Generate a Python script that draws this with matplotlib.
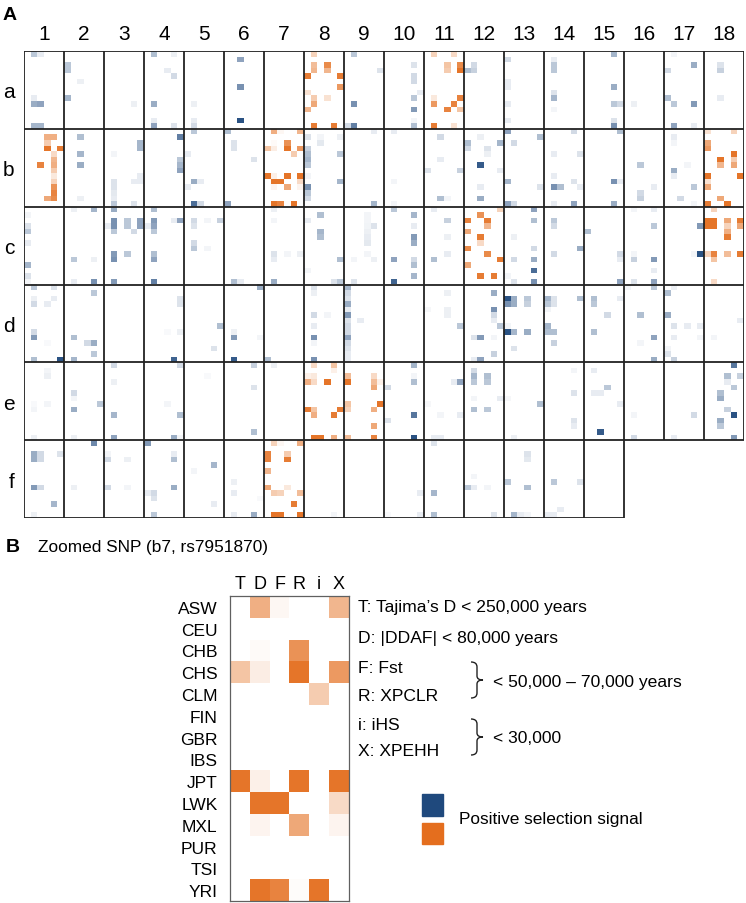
import matplotlib
matplotlib.use("Agg")
import matplotlib.pyplot as plt
import numpy as np
from matplotlib.path import Path
from matplotlib.patches import PathPatch, Rectangle

plt.rcParams['font.family'] = ['Liberation Sans', 'DejaVu Sans']

# ---- panel B data: zoomed SNP (b7, rs7951870) ----
pops = ['ASW', 'CEU', 'CHB', 'CHS', 'CLM', 'FIN', 'GBR', 'IBS',
        'JPT', 'LWK', 'MXL', 'PUR', 'TSI', 'YRI']
tests = ['T', 'D', 'F', 'R', 'i', 'X']
zoom_vals = [
    [0, .55, .05, 0, 0, .5],
    [0, 0, 0, 0, 0, 0],
    [0, .03, 0, .75, 0, 0],
    [.4, .12, 0, .95, 0, .7],
    [0, 0, 0, 0, .35, 0],
    [0, 0, 0, 0, 0, 0],
    [0, 0, 0, 0, 0, 0],
    [0, 0, 0, 0, 0, 0],
    [.95, .1, 0, .95, 0, .95],
    [0, .95, .95, 0, 0, .25],
    [0, .07, 0, .6, 0, .07],
    [0, 0, 0, 0, 0, 0],
    [0, 0, 0, 0, 0, 0],
    [0, .95, .85, .02, .95, 0],
]

# ---- panel A data: per grid row, {column: [(population, test, intensity)]} ----
col_labels = [str(i) for i in range(1, 19)]
row_labels = ['a', 'b', 'c', 'd', 'e', 'f']
row_ncols = [18, 18, 18, 18, 18, 15]

blue_a = {
    1: [(0, 1, .3), (0, 2, .1), (8, 1, .1), (9, 1, .45), (9, 2, .5), (13, 1, .4), (13, 2, .4)],
    2: [(2, 0, .3), (3, 0, .3), (5, 2, .08), (8, 0, .4)],
    3: [(9, 4, .08)],
    4: [(0, 1, .35), (0, 4, .08), (3, 3, .1), (4, 4, .2), (9, 1, .45), (12, 1, .1), (13, 1, .5), (13, 4, .15)],
    5: [(9, 1, .08), (12, 1, .1), (13, 1, .2)],
    6: [(1, 2, .5), (6, 2, .6), (12, 2, .95)],
    9: [(0, 1, .3), (3, 5, .15), (9, 1, .6), (13, 0, .2), (13, 1, .7)],
    10: [(2, 4, .15), (4, 4, .2), (5, 4, .2), (7, 5, .1), (8, 4, .3), (10, 4, .55), (12, 4, .05), (13, 4, .35)],
    12: [(2, 1, .2), (3, 0, .35), (3, 1, .25)],
    13: [(1, 0, .2), (5, 0, .1), (6, 0, .1), (9, 0, .1), (12, 0, .1)],
    14: [(1, 1, .1), (2, 1, .3), (3, 1, .3), (7, 1, .15), (8, 1, .4), (10, 1, .05)],
    15: [(0, 4, .4), (6, 4, .45), (9, 4, .3), (9, 5, .2), (12, 4, .15), (13, 4, .6)],
    16: [(9, 1, .08)],
    17: [(0, 1, .05), (2, 4, .45), (3, 0, .2), (8, 0, .35), (9, 1, .3), (9, 4, .55), (13, 1, .5), (13, 4, .1)],
    18: [(2, 2, .15), (3, 2, .25), (8, 2, .1)],
}
orange_a = {
    8: [(0, 1, .3), (2, 1, .45), (3, 1, .5), (2, 3, .8), (3, 3, .5), (4, 0, .9), (4, 5, .9), (6, 5, .7),
        (7, 0, .2), (8, 1, .35), (8, 3, .2), (9, 1, .6), (10, 0, .5), (13, 1, .9), (13, 4, .9)],
    11: [(0, 1, .3), (0, 4, .25), (2, 3, .4), (3, 3, .35), (2, 5, .8), (3, 5, .95), (8, 1, .15), (8, 5, .85),
         (9, 1, .7), (9, 4, .85), (10, 3, .85), (10, 5, .4), (13, 1, .9), (13, 4, .2)],
}

blue_b = {
    2: [(1, 2, .35), (4, 2, .4), (6, 2, .45), (12, 2, .08)],
    3: [(4, 1, .05), (2, 5, .4), (3, 5, .4), (8, 5, .1), (9, 1, .15), (10, 1, .15), (11, 1, .12), (12, 1, .1),
        (9, 4, .1), (9, 5, .1), (13, 1, .3), (13, 4, .15)],
    4: [(1, 5, .7), (5, 5, .3), (6, 5, .4), (7, 5, .5)],
    5: [(0, 1, .3), (4, 0, .1), (9, 1, .45), (9, 2, .1), (10, 0, .1), (13, 1, .8), (13, 2, .2)],
    6: [(0, 0, .35), (2, 1, .15), (3, 1, .15), (5, 4, .15), (13, 0, .5)],
    8: [(1, 0, .15), (1, 2, .05), (1, 5, .08), (2, 2, .12), (3, 0, .25), (4, 0, .35), (5, 0, .4), (4, 5, .3),
        (6, 0, .3), (8, 0, .05), (9, 5, .4), (10, 0, .6), (11, 0, .3), (12, 0, .2)],
    9: [(0, 4, .1), (13, 4, .4)],
    10: [(0, 1, .1), (9, 1, .05), (13, 1, .05)],
    11: [(1, 2, .2), (5, 2, .1), (7, 0, .15), (7, 5, .25), (12, 2, .35), (12, 3, .05)],
    12: [(1, 2, .08), (2, 0, .35), (3, 0, .2), (3, 3, .15), (4, 3, .08), (2, 5, .4), (6, 2, .9), (7, 5, .1),
         (10, 2, .1), (12, 2, .45)],
    13: [(0, 0, .5), (2, 1, .2), (1, 5, .35), (9, 0, .4), (10, 5, .15), (13, 0, .5), (13, 1, .2)],
    14: [(0, 4, .2), (4, 1, .1), (4, 5, .15), (8, 1, .1), (10, 1, .6), (10, 2, .35), (9, 4, .15), (10, 5, .1),
         (13, 1, .1), (13, 4, .5)],
    15: [(0, 5, .35), (9, 4, .6), (9, 5, .1), (13, 4, .45)],
    16: [(6, 2, .3), (11, 2, .2), (12, 2, .25), (10, 4, .1)],
    17: [(1, 1, .1), (2, 1, .05), (6, 3, .05), (7, 1, .45), (8, 1, .1), (10, 4, .3), (12, 2, .2), (13, 4, .05)],
}
orange_b = {
    1: [(1, 3, .55), (1, 4, .55), (2, 3, .35), (3, 3, .95), (3, 5, .9), (4, 4, .25), (5, 4, .5), (6, 2, .85),
        (6, 4, .55), (7, 4, .35), (8, 4, .15), (9, 4, .3), (10, 4, .75), (11, 4, .85), (12, 3, .6), (12, 4, .8)],
    18: [(0, 0, .2), (0, 4, .3), (2, 0, .6), (3, 0, .7), (4, 4, .95), (5, 2, .95), (5, 4, .35), (6, 2, .5),
         (6, 4, .6), (8, 0, .95), (8, 5, .95), (9, 0, .2), (10, 0, .6), (12, 2, .6), (13, 0, .9), (13, 3, .95)],
}

blue_c = {
    1: [(1, 0, .05), (3, 0, .15), (4, 0, .3), (6, 0, .1), (10, 0, .4), (12, 0, .15), (13, 0, .05)],
    2: [(0, 1, .08), (0, 4, .4), (9, 1, .3), (9, 4, .08), (13, 1, .1), (13, 4, .6)],
    3: [(0, 1, .45), (2, 1, .6), (3, 1, .6), (4, 1, .3), (3, 0, .1), (2, 3, .3), (3, 3, .3), (4, 4, .2),
        (2, 5, .5), (3, 5, .5), (8, 1, .55), (9, 1, .6), (8, 3, .3), (13, 1, .55)],
    4: [(0, 1, .35), (2, 1, .55), (3, 1, .5), (4, 1, .3), (3, 0, .1), (2, 5, .5), (2, 4, .1), (8, 1, .35),
        (9, 1, .5), (13, 1, .7)],
    5: [(2, 1, .2), (3, 1, .15), (2, 3, .05), (2, 5, .25), (6, 1, .2), (7, 1, .3), (7, 3, .05)],
    6: [(13, 1, .35), (13, 2, .1)],
    7: [(0, 1, .08), (2, 1, .05), (8, 1, .15), (9, 1, .1), (8, 3, .05), (8, 5, .08), (13, 1, .45)],
    8: [(1, 2, .35), (2, 0, .1), (4, 2, .4), (5, 2, .35), (9, 5, .35), (11, 0, .05), (13, 4, .15), (13, 5, .3)],
    9: [(1, 3, .05), (2, 3, .05), (3, 3, .06), (3, 4, .15), (4, 3, .08), (5, 3, .1), (6, 3, .12), (8, 3, .05),
        (9, 1, .05), (9, 4, .08), (13, 1, .15)],
    10: [(0, 1, .3), (1, 4, .4), (3, 4, .1), (5, 4, .55), (6, 4, .45), (9, 1, .5), (9, 4, .2), (10, 4, .35),
         (12, 4, .4), (13, 1, .85)],
    11: [(0, 1, .1), (2, 3, .25), (5, 3, .08), (8, 3, .1), (9, 1, .35)],
    13: [(0, 4, .5), (2, 4, .35), (5, 1, .08), (7, 4, .2), (9, 1, .2), (9, 4, .45), (11, 4, .8), (12, 0, .05),
         (13, 1, .15), (13, 4, .6)],
    14: [(2, 1, .3), (3, 1, .2), (8, 1, .2), (7, 5, .45)],
    15: [(4, 0, .35), (8, 5, .2), (9, 5, .1), (13, 5, .5)],
    16: [(0, 1, .05), (0, 4, .1), (3, 4, .3), (8, 1, .05), (9, 1, .25), (9, 4, .55), (11, 4, .1), (13, 1, .15),
         (13, 4, .5)],
    17: [(3, 5, .55), (8, 5, .95), (8, 4, .05)],
}
orange_c = {
    12: [(0, 5, .3), (1, 2, .75), (2, 0, .85), (2, 3, .9), (3, 3, .5), (4, 0, .6), (5, 2, .9), (6, 2, .25),
         (7, 0, .8), (8, 3, .8), (9, 5, .9), (10, 0, .6), (12, 2, .9), (12, 4, .9)],
    18: [(0, 1, .3), (2, 0, .95), (2, 1, .95), (3, 0, .95), (3, 1, .95), (2, 3, .6), (3, 3, .3), (2, 5, .9),
         (3, 5, .6), (4, 3, .55), (5, 3, .9), (8, 0, .3), (8, 1, .85), (9, 1, .4), (8, 3, .45), (8, 5, .9),
         (13, 1, .25)],
}

blue_d = {
    1: [(0, 1, .3), (0, 4, .15), (2, 1, .08), (3, 1, .2), (3, 3, .1), (2, 4, .1), (8, 1, .2), (9, 1, .55),
        (10, 3, .03), (13, 1, .35), (13, 5, .95)],
    2: [(1, 4, .3), (9, 1, .35), (10, 3, .2), (10, 4, .45), (12, 4, .3), (13, 1, .4)],
    4: [(2, 5, .15), (3, 5, .15), (8, 5, .08), (8, 3, .03), (13, 4, .85)],
    5: [(7, 5, .35), (11, 4, .15)],
    6: [(0, 5, .45), (8, 1, .08), (9, 1, .55), (9, 5, .05), (13, 1, .9)],
    7: [(13, 0, .35)],
    8: [(0, 1, .15), (1, 1, .08), (5, 1, .2), (5, 3, .05), (7, 1, .1), (9, 1, .6), (10, 1, .05), (13, 1, .6)],
    9: [(0, 0, .4), (1, 0, .2), (2, 0, .15), (3, 0, .45), (4, 0, .1), (5, 0, .55), (6, 0, .15), (6, 2, .1),
        (7, 0, .2), (8, 0, .2), (9, 0, .5), (10, 0, .2), (11, 0, .15), (12, 0, .1), (13, 0, .1)],
    11: [(1, 3, .08), (4, 3, .08), (5, 3, .08), (4, 0, .04), (7, 5, .3)],
    12: [(1, 4, .45), (4, 4, .6), (5, 4, .2), (6, 4, .1), (7, 5, .3), (9, 1, .15), (9, 2, .55), (9, 4, .05),
         (12, 4, .25), (13, 1, .1), (13, 2, .5)],
    13: [(2, 0, .95), (3, 0, .6), (2, 1, .45), (3, 1, .45), (2, 3, .3), (3, 3, .25), (7, 0, .05), (8, 0, .95),
         (8, 1, .4), (8, 3, .45), (11, 1, .15)],
    14: [(2, 0, .4), (3, 0, .3), (2, 1, .15), (3, 1, .15), (2, 5, .35), (4, 0, .05), (7, 0, .4), (8, 0, .35),
         (8, 1, .35), (10, 1, .25)],
    15: [(2, 1, .35), (3, 1, .3), (2, 5, .1), (5, 3, .2), (8, 1, .35)],
    16: [(0, 0, .05), (0, 4, .3), (5, 2, .35), (9, 4, .5), (10, 2, .05), (13, 4, .45)],
    17: [(0, 1, .08), (1, 0, .35), (5, 0, .45), (7, 1, .15), (7, 3, .1), (7, 5, .1), (9, 1, .1), (9, 5, .05),
         (11, 0, .05), (12, 0, .15), (13, 1, .25)],
    18: [(6, 5, .1), (9, 1, .05)],
}
orange_d = {}

blue_e = {
    1: [(1, 3, .05), (2, 3, .08), (7, 1, .03), (7, 3, .05), (8, 1, .05), (13, 1, .08)],
    2: [(5, 1, .2), (6, 1, .05), (7, 5, .3), (8, 1, .45), (13, 1, .08)],
    3: [(0, 1, .2), (3, 1, .08), (9, 1, .4), (13, 1, .5)],
    4: [(0, 5, .2), (7, 3, .05), (9, 5, .35), (13, 4, .45), (13, 5, .05)],
    5: [(2, 3, .03)],
    6: [(0, 4, .25), (4, 4, .15), (12, 4, .35)],
    7: [(0, 1, .08)],
    10: [(0, 4, .4), (2, 4, .05), (3, 4, .35), (4, 0, .2), (9, 4, .75), (10, 0, .15), (13, 4, .95)],
    11: [(3, 4, .1), (3, 5, .5), (7, 0, .04), (9, 2, .05), (9, 5, .1), (13, 1, .1), (13, 2, .1)],
    12: [(1, 1, .2), (2, 1, .4), (3, 1, .3), (2, 3, .35), (3, 3, .3), (6, 1, .05), (6, 5, .1), (8, 1, .35),
         (8, 3, .3)],
    13: [(6, 0, .04), (7, 5, .35), (13, 1, .08)],
    14: [(1, 4, .05), (5, 4, .15), (10, 4, .15), (11, 4, .1)],
    15: [(1, 1, .1), (4, 3, .3), (5, 1, .1), (5, 2, .1), (7, 5, .1), (12, 2, .9)],
    16: [(9, 1, .05), (13, 1, .2)],
    17: [(9, 4, .2), (13, 1, .1)],
    18: [(0, 4, .75), (2, 3, .35), (2, 5, .25), (3, 3, .1), (4, 4, .3), (5, 2, .35), (6, 2, .45), (8, 3, .25),
         (9, 4, .95), (10, 2, .45), (11, 2, .3), (13, 4, .55)],
}
orange_e = {
    8: [(0, 1, .25), (0, 4, .4), (1, 4, .1), (2, 0, .1), (2, 1, .15), (3, 0, .55), (3, 1, .25), (3, 3, .95),
        (8, 0, .9), (8, 1, .4), (9, 1, .55), (8, 5, .9), (9, 4, .9), (13, 1, .95), (13, 2, .95), (13, 4, .55)],
    9: [(2, 0, .45), (3, 0, .95), (2, 4, .25), (3, 4, .45), (4, 4, .6), (3, 5, .1), (7, 0, .4), (8, 0, .3),
        (7, 5, .95), (8, 4, .55), (11, 4, .6), (13, 0, .45), (13, 4, .85)],
}

blue_f = {
    1: [(2, 1, .45), (3, 1, .45), (2, 2, .2), (3, 2, .2), (2, 5, .15), (8, 1, .55), (8, 2, .2), (11, 4, .4),
        (13, 1, .08)],
    2: [(0, 4, .65), (8, 1, .08)],
    3: [(2, 0, .05), (3, 0, .2), (3, 3, .08), (8, 0, .2), (8, 3, .05)],
    4: [(0, 0, .55), (2, 4, .1), (3, 4, .35), (8, 4, .45), (9, 0, .1), (9, 1, .2), (10, 1, .15), (13, 1, .3)],
    5: [(4, 4, .4), (5, 1, .05), (11, 4, .1)],
    6: [(7, 1, .08), (9, 1, .1), (10, 5, .03), (13, 1, .1), (13, 4, .45)],
    8: [(13, 4, .05)],
    10: [(9, 5, .1), (13, 5, .1), (13, 0, .03)],
    11: [(0, 1, .15), (9, 1, .4), (13, 1, .35)],
    12: [(6, 1, .05), (8, 0, .3), (8, 1, .1), (8, 3, .05), (13, 4, .15)],
    13: [(2, 3, .15), (3, 3, .12), (7, 0, .3), (8, 3, .35), (13, 1, .4), (13, 2, .1), (13, 3, .05)],
    14: [(7, 1, .3), (7, 5, .15), (12, 2, .1), (13, 0, .1), (13, 1, .1)],
}
orange_f = {
    7: [(0, 1, .3), (0, 2, .05), (0, 5, .55), (2, 0, .85), (3, 0, .85), (2, 3, .35), (3, 3, .9), (5, 0, .5),
        (8, 0, .6), (9, 1, .35), (9, 2, .3), (8, 3, .15), (9, 5, .45), (11, 4, .9), (13, 1, .95), (13, 2, .95),
        (13, 5, .95)],
}

blues = [blue_a, blue_b, blue_c, blue_d, blue_e, blue_f]
oranges = [orange_a, orange_b, orange_c, orange_d, orange_e, orange_f]

BLUE = np.array([31, 73, 125]) / 255
ORANGE = np.array([228, 110, 30]) / 255
npop, ntest = len(pops), len(tests)


def shade(color, v):
    return 1 - v * (1 - color)


# build the big panel A image
img = np.ones((6 * npop, 18 * ntest, 3))
for r in range(6):
    for colour, table in ((BLUE, blues[r]), (ORANGE, oranges[r])):
        for c, entries in table.items():
            for p, t, v in entries:
                img[r * npop + p, (c - 1) * ntest + t] = shade(colour, v)
# b7 is the zoomed SNP of panel B
for p in range(npop):
    for t in range(ntest):
        if zoom_vals[p][t] > 0:
            img[npop + p, 6 * ntest + t] = shade(ORANGE, zoom_vals[p][t])

fig = plt.figure(figsize=(7.46, 9.04), dpi=100)

# overlay in pixel units for annotations
ov = fig.add_axes([0, 0, 1, 1])
ov.set_xlim(0, 746)
ov.set_ylim(904, 0)
ov.axis('off')

W, H = 746, 904
# ---- panel A ----
axA = fig.add_axes([24 / W, 1 - 519 / H, 720 / W, 467 / H])
axA.imshow(img, extent=(0, 18 * ntest, 6 * npop, 0), interpolation='nearest', aspect='auto')
axA.set_xlim(0, 18 * ntest)
axA.set_ylim(6 * npop, 0)
for s in axA.spines.values():
    s.set_visible(False)
gc, glw = '#222222', 1.3
for r in range(7):
    if r == 0:
        ncols = row_ncols[0]
    elif r == 6:
        ncols = row_ncols[5]
    else:
        ncols = max(row_ncols[r - 1], row_ncols[r])
    axA.hlines(r * npop, 0, ncols * ntest, color=gc, lw=glw)
for r in range(6):
    for k in range(row_ncols[r] + 1):
        axA.vlines(k * ntest, r * npop, (r + 1) * npop, color=gc, lw=glw)
axA.xaxis.tick_top()
axA.set_xticks([ntest * k + ntest / 2 for k in range(18)])
axA.set_xticklabels(col_labels, fontsize=15)
axA.set_yticks([npop * r + npop / 2 for r in range(6)])
axA.set_yticklabels(row_labels, fontsize=15)
axA.tick_params(length=0, pad=6)
axA.tick_params(axis='y', pad=7)

# ---- panel B ----
axB = fig.add_axes([230 / W, 1 - 902 / H, 119 / W, 305 / H])
zimg = np.ones((npop, ntest, 3))
for p in range(npop):
    for t in range(ntest):
        zimg[p, t] = shade(ORANGE, zoom_vals[p][t])
axB.imshow(zimg, extent=(0, ntest, npop, 0), interpolation='nearest', aspect='auto')
axB.xaxis.tick_top()
axB.set_xticks(np.arange(ntest) + 0.5)
axB.set_xticklabels(tests, fontsize=13)
axB.set_yticks(np.arange(npop) + 0.5)
axB.set_yticklabels(pops, fontsize=12.5)
axB.tick_params(length=0)
axB.tick_params(axis='x', pad=3)
axB.tick_params(axis='y', pad=9)
for s in axB.spines.values():
    s.set_color('#606060')
    s.set_linewidth(0.9)

# ---- titles ----
ov.text(3, 20, 'A', fontsize=14, fontweight='bold', va='baseline')
ov.text(6, 552, 'B', fontsize=14, fontweight='bold', va='baseline')
ov.text(38, 552, 'Zoomed SNP (b7, rs7951870)', fontsize=12.4, va='baseline')

# ---- test key ----
key_lines = ['T: Tajima’s D < 250,000 years', 'D: |DDAF| < 80,000 years',
             'F: Fst', 'R: XPCLR', 'i: iHS', 'X: XPEHH']
key_y = [608, 639, 669, 697, 726, 752]
for txt, y in zip(key_lines, key_y):
    ov.text(358, y, txt, fontsize=12.6, va='center')


def brace(x0, x1, y0, y1):
    xm = (x0 + x1) / 2
    ym = (y0 + y1) / 2
    verts = [(x0, y0), (xm, y0), (xm, y0 + 5), (xm, ym - 4), (xm, ym), (x1, ym),
             (xm, ym), (xm, ym + 4), (xm, y1 - 5), (xm, y1), (x0, y1)]
    codes = [Path.MOVETO, Path.CURVE3, Path.CURVE3, Path.LINETO, Path.CURVE3, Path.CURVE3,
             Path.CURVE3, Path.CURVE3, Path.LINETO, Path.CURVE3, Path.CURVE3]
    ov.add_patch(PathPatch(Path(verts, codes), fill=False, lw=1.0, color='#222222'))


brace(471, 483, 663, 699)
ov.text(493, 683, '< 50,000 – 70,000 years', fontsize=12.6, va='center')
brace(471, 483, 720, 756)
ov.text(493, 739, '< 30,000', fontsize=12.6, va='center')

# ---- legend ----
ov.add_patch(Rectangle((422, 795), 21, 22, color=BLUE))
ov.add_patch(Rectangle((422, 824), 21, 21, color=ORANGE))
ov.text(459, 820, 'Positive selection signal', fontsize=12.4, va='center')

fig.savefig('out.png', dpi=100)
